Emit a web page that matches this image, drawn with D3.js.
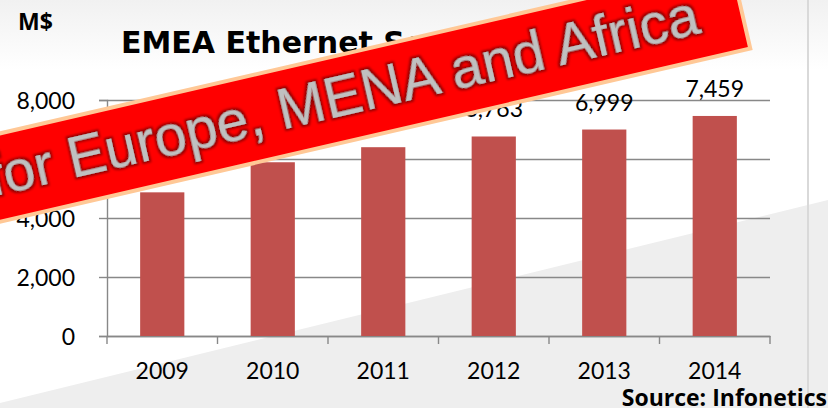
<!DOCTYPE html>
<html>
<head>
<meta charset="utf-8">
<script src="https://cdn.jsdelivr.net/npm/d3@7"></script>
<style>
  body { margin: 0; background: #fff; }
  svg { display: block; font-family: Lato, "Open Sans", sans-serif; }
</style>
</head>
<body>
<div id="chart"></div>
<script>
// data (2009-2011 labels are hidden under the banner)
const years = ["2009", "2010", "2011", "2012", "2013", "2014"];
const revenue = [4870, 5890, 6400, 6763, 6999, 7459];
const yTicks = [0, 2000, 4000, 6000, 8000];

const W = 828, H = 408;
const plot = { left: 107, right: 770, top: 100, bottom: 336 };

const svg = d3.select("#chart").append("svg")
  .attr("width", W).attr("height", H);

const defs = svg.append("defs");
const bg = defs.append("linearGradient").attr("id", "topfade")
  .attr("x1", 0).attr("y1", 0).attr("x2", 0).attr("y2", 1);
bg.append("stop").attr("offset", 0).attr("stop-color", "#f1f1f1");
bg.append("stop").attr("offset", 1).attr("stop-color", "#ffffff");

// glow round the banner text
const glow = defs.append("filter").attr("id", "glow")
  .attr("x", "-5%").attr("y", "-30%").attr("width", "110%").attr("height", "160%");
glow.append("feMorphology").attr("in", "SourceAlpha").attr("operator", "dilate")
  .attr("radius", 1.7).attr("result", "thick");
glow.append("feGaussianBlur").attr("in", "thick").attr("stdDeviation", 1.1).attr("result", "blur");
glow.append("feFlood").attr("flood-color", "#960000").attr("result", "col");
glow.append("feComposite").attr("in", "col").attr("in2", "blur").attr("operator", "in").attr("result", "shadow");
const merge = glow.append("feMerge");
merge.append("feMergeNode").attr("in", "shadow");
merge.append("feMergeNode").attr("in", "SourceGraphic");

// slide background
svg.append("rect").attr("width", W).attr("height", 70).attr("fill", "url(#topfade)");
svg.append("path")
  .attr("d", "M0,403 L828,200 L828,408 L0,408 Z")
  .attr("fill", "#eeeeee");
svg.append("line")
  .attr("x1", 808).attr("x2", 808).attr("y1", 0).attr("y2", H)
  .attr("stroke", "#d9d9d9").attr("stroke-width", 2);

// scales
const x = d3.scaleBand().domain(years).range([plot.left, plot.right]).padding(0);
const y = d3.scaleLinear().domain([0, 8000]).range([plot.bottom, plot.top]);

// gridlines
svg.append("g")
  .attr("transform", `translate(${plot.left},0)`)
  .call(d3.axisLeft(y).tickValues(yTicks).tickSize(-(plot.right - plot.left)).tickFormat(""))
  .call(g => g.select(".domain").remove())
  .selectAll("line").attr("stroke", "#888").attr("stroke-width", 1.4);

// y axis
const yAxis = svg.append("g")
  .attr("transform", `translate(${plot.left},0)`)
  .call(d3.axisLeft(y).tickValues(yTicks).tickSize(8).tickPadding(24).tickFormat(d3.format(",")));
yAxis.select(".domain").attr("stroke", "#888").attr("stroke-width", 1.4);
yAxis.selectAll("line").attr("stroke", "#888").attr("stroke-width", 1.4);
yAxis.selectAll("text").attr("font-size", 23).attr("fill", "#000")
  .attr("font-family", "Lato").attr("dy", "0.36em");

// x axis: labels at band centres, tick marks at band edges
const xAxis = svg.append("g")
  .attr("transform", `translate(0,${plot.bottom})`)
  .call(d3.axisBottom(x).tickSize(0));
xAxis.select(".domain").attr("stroke", "#888").attr("stroke-width", 1.4);
xAxis.selectAll("text").attr("font-size", 23).attr("fill", "#000")
  .attr("font-family", "Lato").attr("y", 43).attr("dy", 0);

const edges = years.map(d => x(d)).concat([x.range()[1]]);
xAxis.selectAll(".edge").data(edges).enter().append("line")
  .attr("class", "edge")
  .attr("x1", d => d).attr("x2", d => d)
  .attr("y1", 0).attr("y2", 8)
  .attr("stroke", "#888").attr("stroke-width", 1.4);

// bars
const barW = x.bandwidth() * 0.4;
svg.selectAll(".bar").data(revenue).enter().append("rect")
  .attr("class", "bar")
  .attr("x", (d, i) => x(years[i]) + (x.bandwidth() - barW) / 2)
  .attr("y", d => y(d))
  .attr("width", barW)
  .attr("height", d => y(0) - y(d))
  .attr("fill", "#c0504d");

// value labels
svg.selectAll(".val").data(revenue).enter().append("text")
  .attr("class", "val")
  .attr("x", (d, i) => x(years[i]) + x.bandwidth() / 2)
  .attr("y", d => y(d) - 19)
  .attr("text-anchor", "middle")
  .attr("font-size", 23)
  .text(d => d3.format(",")(d));

// titles
const boldFont = "'Open Sans', sans-serif";
svg.append("text").attr("x", 18).attr("y", 30)
  .attr("font-family", boldFont).attr("font-size", 23).attr("font-weight", "bold").text("M$");
svg.append("text").attr("x", 121).attr("y", 53)
  .attr("font-family", "'DejaVu Sans', sans-serif").attr("font-size", 30).attr("font-weight", "bold")
  .text("EMEA Ethernet Services");
svg.append("text").attr("x", 827).attr("y", 406).attr("text-anchor", "end")
  .attr("font-family", boldFont).attr("font-size", 23).attr("font-weight", "bold")
  .text("Source: Infonetics");

// red banner across the chart
const banner = svg.append("g").attr("transform", "translate(0,195) rotate(-13)");
banner.append("rect")
  .attr("x", -160).attr("y", -60)
  .attr("width", 160 + 764).attr("height", 86)
  .attr("fill", "#ff0000")
  .attr("stroke", "#ffc896").attr("stroke-width", 4);
banner.append("text")
  .attr("x", -8).attr("y", 0)
  .attr("font-family", "'Liberation Sans', Arial, sans-serif")
  .attr("font-size", 57)
  .attr("fill", "#c0c0c0")
  .attr("filter", "url(#glow)")
  .text("for Europe, MENA and Africa");
</script>
</body>
</html>
